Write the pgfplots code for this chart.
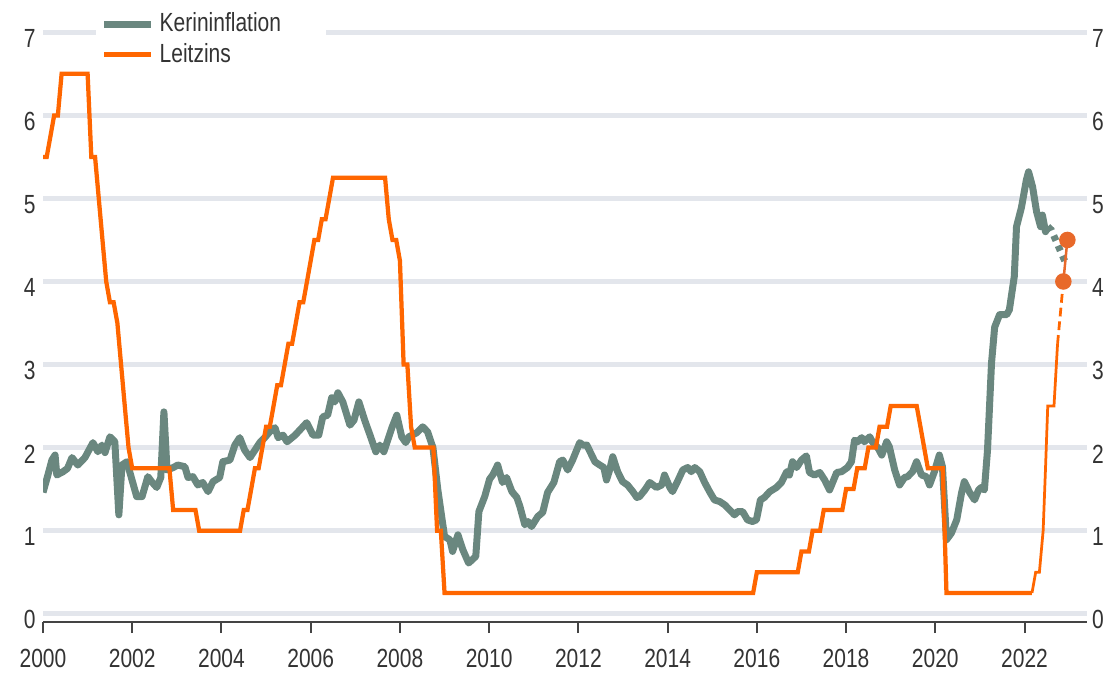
\documentclass[border=0pt]{standalone}
\usepackage{fontspec}
\setmainfont{Liberation Sans}[FakeStretch=0.8]
\usepackage{pgfplots}
\pgfplotsset{compat=1.18}
\definecolor{kerngreen}{HTML}{6A877F}
\definecolor{zinsorange}{HTML}{FF6600}
\definecolor{dotorange}{HTML}{E8692A}
\definecolor{gridgray}{HTML}{E3E6EC}
\definecolor{axisgray}{HTML}{444444}
\definecolor{txtgray}{HTML}{333333}

\pgfplotstableread{
x y
2000.00 1.46
2000.10 1.65
2000.20 1.85
2000.27 1.91
2000.31 1.67
2000.45 1.71
2000.55 1.75
2000.65 1.88
2000.78 1.79
2000.94 1.88
2001.12 2.06
2001.23 1.95
2001.32 2.03
2001.39 1.94
2001.50 2.13
2001.61 2.07
2001.70 1.19
2001.77 1.79
2001.88 1.83
2002.10 1.41
2002.22 1.41
2002.35 1.65
2002.45 1.58
2002.55 1.52
2002.64 1.64
2002.71 2.43
2002.78 1.73
2002.92 1.76
2003.02 1.79
2003.18 1.77
2003.25 1.64
2003.36 1.65
2003.47 1.55
2003.58 1.58
2003.70 1.47
2003.81 1.59
2003.96 1.64
2004.03 1.83
2004.19 1.85
2004.30 2.03
2004.41 2.12
2004.52 1.97
2004.64 1.88
2004.86 2.06
2004.97 2.12
2005.08 2.19
2005.20 2.24
2005.27 2.12
2005.38 2.15
2005.47 2.07
2005.65 2.15
2005.91 2.30
2006.05 2.15
2006.18 2.15
2006.27 2.37
2006.38 2.39
2006.47 2.60
2006.54 2.55
2006.61 2.66
2006.72 2.55
2006.88 2.27
2006.97 2.33
2007.08 2.55
2007.21 2.33
2007.33 2.15
2007.46 1.95
2007.55 2.03
2007.64 1.95
2007.82 2.24
2007.93 2.39
2008.04 2.13
2008.13 2.06
2008.20 2.13
2008.38 2.18
2008.51 2.25
2008.62 2.19
2008.74 2.00
2008.85 1.49
2009.00 0.93
2009.12 0.89
2009.18 0.75
2009.30 0.95
2009.41 0.77
2009.54 0.61
2009.70 0.69
2009.77 1.23
2009.90 1.41
2010.01 1.62
2010.08 1.67
2010.19 1.79
2010.30 1.58
2010.39 1.64
2010.51 1.47
2010.62 1.40
2010.69 1.29
2010.80 1.07
2010.87 1.11
2010.95 1.05
2011.09 1.17
2011.20 1.22
2011.31 1.46
2011.45 1.58
2011.58 1.83
2011.65 1.85
2011.76 1.73
2011.87 1.85
2012.03 2.06
2012.10 2.03
2012.19 2.03
2012.37 1.83
2012.48 1.79
2012.57 1.76
2012.63 1.61
2012.70 1.73
2012.77 1.89
2012.88 1.71
2012.99 1.59
2013.10 1.55
2013.22 1.47
2013.31 1.40
2013.37 1.41
2013.49 1.49
2013.60 1.58
2013.75 1.52
2013.87 1.55
2013.93 1.67
2014.05 1.52
2014.11 1.47
2014.22 1.59
2014.34 1.73
2014.45 1.76
2014.53 1.71
2014.61 1.76
2014.72 1.71
2014.83 1.58
2014.94 1.47
2015.05 1.37
2015.17 1.35
2015.28 1.31
2015.39 1.25
2015.50 1.19
2015.57 1.23
2015.68 1.23
2015.79 1.13
2015.90 1.11
2015.99 1.13
2016.08 1.37
2016.17 1.40
2016.29 1.47
2016.44 1.52
2016.55 1.58
2016.67 1.71
2016.73 1.67
2016.80 1.83
2016.89 1.76
2017.00 1.85
2017.11 1.90
2017.18 1.70
2017.29 1.67
2017.41 1.70
2017.52 1.61
2017.63 1.49
2017.79 1.70
2017.90 1.71
2018.03 1.76
2018.12 1.83
2018.19 2.09
2018.26 2.07
2018.35 2.12
2018.41 2.07
2018.53 2.13
2018.60 2.06
2018.71 2.00
2018.80 1.91
2018.91 2.07
2018.97 2.01
2019.09 1.73
2019.20 1.55
2019.31 1.64
2019.38 1.65
2019.49 1.71
2019.58 1.83
2019.69 1.67
2019.80 1.65
2019.87 1.55
2019.98 1.71
2020.09 1.91
2020.16 1.77
2020.25 0.89
2020.36 0.97
2020.48 1.13
2020.59 1.46
2020.65 1.59
2020.77 1.46
2020.88 1.37
2020.97 1.49
2021.03 1.52
2021.10 1.49
2021.17 1.97
2021.26 3.02
2021.33 3.45
2021.44 3.60
2021.60 3.60
2021.66 3.66
2021.77 4.06
2021.82 4.66
2021.93 4.89
2022.04 5.22
2022.09 5.32
2022.18 5.14
2022.27 4.84
2022.36 4.66
2022.40 4.80
2022.47 4.60
2022.52 4.66
}\kerntable

\pgfplotstableread{
x y
2000.000 5.5
2000.083 5.5
2000.167 5.75
2000.250 6.0
2000.333 6.0
2000.417 6.5
2001.000 6.5
2001.083 5.5
2001.167 5.5
2001.250 5.0
2001.333 4.5
2001.417 4.0
2001.500 3.75
2001.583 3.75
2001.667 3.5
2001.750 3.0
2001.833 2.5
2001.917 2.0
2002.000 1.75
2002.833 1.75
2002.917 1.25
2003.417 1.25
2003.500 1.0
2004.417 1.0
2004.500 1.25
2004.583 1.25
2004.667 1.5
2004.750 1.75
2004.833 1.75
2004.917 2.0
2005.000 2.25
2005.083 2.25
2005.167 2.5
2005.250 2.75
2005.333 2.75
2005.417 3.0
2005.500 3.25
2005.583 3.25
2005.667 3.5
2005.750 3.75
2005.833 3.75
2005.917 4.0
2006.000 4.25
2006.083 4.5
2006.167 4.5
2006.250 4.75
2006.333 4.75
2006.417 5.0
2006.500 5.25
2007.667 5.25
2007.750 4.75
2007.833 4.5
2007.917 4.5
2008.000 4.25
2008.083 3.0
2008.167 3.0
2008.250 2.25
2008.333 2.0
2008.750 2.0
2008.833 1.0
2008.917 1.0
2009.000 0.25
2015.917 0.25
2016.000 0.5
2016.917 0.5
2017.000 0.75
2017.167 0.75
2017.250 1.0
2017.417 1.0
2017.500 1.25
2017.917 1.25
2018.000 1.5
2018.167 1.5
2018.250 1.75
2018.417 1.75
2018.500 2.0
2018.667 2.0
2018.750 2.25
2018.917 2.25
2019.000 2.5
2019.583 2.5
2019.667 2.25
2019.750 2.0
2019.833 1.75
2020.167 1.75
2020.250 0.25
2022.167 0.25
}\zinstable

\begin{document}
\begin{tikzpicture}
\useasboundingbox (-17.2pt,-20pt) rectangle (425.2pt,248.8pt);
\pgfplotsset{
  commonaxis/.style={
    at={(0pt,0pt)}, anchor=south west, scale only axis,
    width=417.6pt, height=239.2pt,
    xmin=2000, xmax=2023.4, ymin=-0.1, ymax=7.1,
    ytick={0,1,...,7},
    tick label style={font=\fontsize{10.5}{12}\selectfont, text=txtgray,
      /pgf/number format/assume math mode=true},
    y axis line style={draw=none},
    ytick style={draw=none},
  }
}
% right-hand labels
\begin{axis}[commonaxis,
  axis x line=none, axis y line*=right,
  yticklabel style={yshift=-2.5pt, xshift=-1.5pt},
]
\end{axis}

\begin{axis}[commonaxis,
  axis x line*=bottom, axis y line*=left,
  x axis line style={draw=axisgray, line width=0.8pt},
  xtick={2000,2002,...,2022},
  tick align=outside,
  major tick length=4.4pt,
  xtick style={draw=axisgray, line width=0.8pt},
  xticklabel style={/pgf/number format/set thousands separator={}, yshift=-3pt},
  yticklabel style={yshift=-2.5pt, xshift=5pt},
  ymajorgrids, grid style={draw=gridgray, line width=2pt},
  legend style={at={(0.05,1.032)}, anchor=north west, fill=white, draw=none,
    font=\fontsize{10.5}{12}\selectfont, text=txtgray, row sep=-1pt,
    inner xsep=2pt, inner ysep=1pt},
  legend cell align=left,
  legend image code/.code={\draw[#1] (0pt,0pt) -- (18.8pt,0pt);},
]
\addlegendimage{kerngreen, line width=2.8pt}
\addlegendentry{Kerininflation\hspace*{14pt}}
\addlegendimage{zinsorange, line width=2pt}
\addlegendentry{Leitzins}
\addplot[kerngreen, line width=2.8pt, line join=round, forget plot] table {\kerntable};
\addplot[kerngreen, line width=2.8pt, dash pattern=on 2.2pt off 2.2pt, forget plot]
  coordinates {(2022.52,4.66) (2022.60,4.62) (2022.94,4.20)};
\addplot[zinsorange, line width=1.7pt, forget plot] table {\zinstable};
\addplot[zinsorange, line width=1.1pt, forget plot]
  coordinates {(2022.167,0.25) (2022.25,0.5) (2022.333,0.5) (2022.417,1.0)
  (2022.47,1.75) (2022.52,2.5) (2022.66,2.5) (2022.74,3.25)};
\addplot[zinsorange, line width=1.1pt, dash pattern=on 3.5pt off 2pt, forget plot]
  coordinates {(2022.74,3.25) (2022.87,4.0)};
\addplot[dotorange, line width=1pt, mark=*, mark size=2.8pt,
  mark options={fill=dotorange, draw=dotorange}, forget plot]
  coordinates {(2022.87,4.0) (2022.96,4.5)};
\end{axis}
\end{tikzpicture}
\end{document}
